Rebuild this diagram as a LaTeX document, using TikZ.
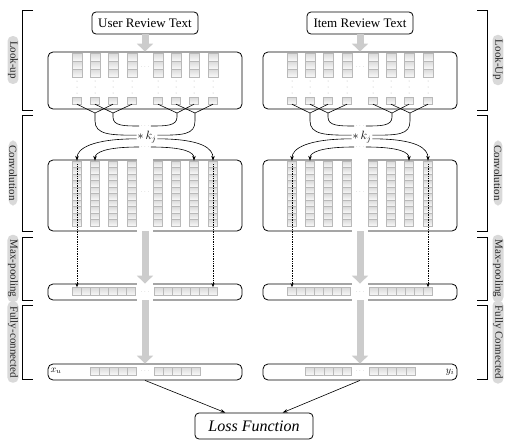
\documentclass[tikz,border=0pt]{standalone}
\usepackage{fontspec}
\setmainfont{Liberation Serif}
\usetikzlibrary{shapes,
                arrows.meta,
                calc,
                positioning}
\tikzstyle{panel} = [draw=black, line width=0.8pt, rounded corners=5pt, minimum width=194pt, inner sep=0pt]
\tikzstyle{textbox} = [draw=black, line width=0.8pt, rounded corners=4pt, minimum width=106pt, minimum height=22pt, font=\fontsize{13}{15}\selectfont]
\tikzstyle{cell} = [draw=gray!55, line width=0.4pt, top color=gray!30, bottom color=gray!5, inner sep=0pt]
\tikzstyle{sidelabel} = [fill=gray!30, rounded corners=5pt, rotate=-90, inner xsep=5pt, inner ysep=0.5pt, text=black!85, font=\fontsize{11}{12}\selectfont]
\tikzstyle{bracket} = [line width=0.9pt]
\tikzstyle{bigarrow} = [line width=7pt, draw=gray!40, -{Triangle[width=16pt,length=8pt]}]
\tikzstyle{arrow} = [line width=0.6pt, -{Stealth[length=5pt,width=3.5pt]}]
\tikzstyle{dotarrow} = [densely dotted, line width=0.7pt, -{Stealth[length=4pt,width=3pt]}]
\tikzstyle{wire} = [line width=0.6pt]
\tikzstyle{dots} = [gray, font=\tiny, inner sep=1pt]

\begin{document}
\begin{tikzpicture}[x=1pt,y=-1pt]
\useasboundingbox (0,0) rectangle (517,447);

% layer brackets
\foreach \ya/\yb/\nm/\labl/\labr in {10/110/lu/Look-up/Look-Up,
    115/231/cv/Convolution/Convolution,
    237/300/mp/Max-pooling/Max-pooling,
    305/379/fc/Fully-connected/Fully Connected}{
  \draw[bracket] (33,\ya) -- (22,\ya) -- (22,\yb) -- (33,\yb);
  \draw[bracket] (477,\ya) -- (487,\ya) -- (487,\yb) -- (477,\yb);
  \node[sidelabel] (name-\nm-l) at (13,{(\ya+\yb)/2}) {\labl};
  \node[sidelabel] (name-\nm-r) at (498,{(\ya+\yb)/2}) {\labr};
}

\foreach \ox/\p/\txt in {0/u/User Review Text, 215/i/Item Review Text}{
  % look-up
  \node[textbox] (text-\p) at (145+\ox,23) {\txt};
  \node[panel, minimum height=57pt] (lu-\p) at (145+\ox,80.5) {};
  \draw[bigarrow] (text-\p.south) -- (lu-\p.north);
  \foreach \c/\cx in {1/77,2/95,3/113,4/132,5/158,6/176,7/194,8/213}{
    \foreach \r/\ry in {1/57,2/65,3/73}
      \node[cell, minimum width=10pt, minimum height=8pt] (lt-\p-\c-\r) at (\cx+\ox,\ry) {};
    \node[cell, minimum width=9pt, minimum height=7pt] (lb-\p-\c) at (\cx+\ox,100.5) {};
    \foreach \dy in {81,87,93}
      \fill[gray!60] (\cx+\ox,\dy) circle (0.5);
  }
  \node[dots] (lu-dots-\p) at (145+\ox,67) {$\cdots$};

  % kernel
  \node[inner sep=1pt, font=\fontsize{12}{14}\selectfont] (k-\p) at (147+\ox,137) {$\ast\,k_j$};
  \node[dots] (kd1-\p) at (145+\ox,126) {$\cdots$};
  \node[dots] (kd2-\p) at (145+\ox,147) {$\cdots$};
  \coordinate (ja-\p) at (95+\ox,113);
  \coordinate (jb-\p) at (113+\ox,113);
  \coordinate (jc-\p) at (177+\ox,113);
  \coordinate (jd-\p) at (195+\ox,113);
  \draw[wire] (lb-\p-1.south) -- (ja-\p) -- (lb-\p-3.south);
  \draw[wire] (lb-\p-2.south) -- (jb-\p) -- (lb-\p-4.south);
  \draw[wire] (lb-\p-5.south) -- (jc-\p) -- (lb-\p-7.south);
  \draw[wire] (lb-\p-6.south) -- (jd-\p) -- (lb-\p-8.south);
  \draw[wire] (jb-\p) -- ++(0,4) .. controls +(0,9) and +(-15,0) .. (kd1-\p.west);
  \draw[wire] (ja-\p) -- ++(0,8) .. controls +(0,14) and +(-25,0) .. (k-\p.170);
  \draw[wire] (jc-\p) -- ++(0,4) .. controls +(0,9) and +(15,0) .. (kd1-\p.east);
  \draw[wire] (jd-\p) -- ++(0,8) .. controls +(0,14) and +(25,0) .. (k-\p.10);

  % convolution
  \node[panel, minimum height=71pt] (cv-\p) at (145+\ox,195.5) {};
  \foreach \c/\cx in {1/77,2/95,3/113,4/132,5/158,6/176,7/194,8/213}{
    \foreach \r in {1,...,10}
      \node[cell, minimum width=9pt, minimum height=6.5pt] (cc-\p-\c-\r) at (\cx+\ox,{164.25+6.5*(\r-1)}) {};
  }
  \node[dots] (cv-dots-\p) at (145+\ox,192) {$\cdots$};
  \draw[arrow] (k-\p.190) .. controls +(-45,0) and +(0,-12) .. (cc-\p-1-1.north);
  \draw[arrow] (kd2-\p.west) .. controls +(-35,0) and +(0,-8) .. (cc-\p-2-1.north);
  \draw[arrow] (k-\p.350) .. controls +(45,0) and +(0,-12) .. (cc-\p-8-1.north);
  \draw[arrow] (kd2-\p.east) .. controls +(35,0) and +(0,-8) .. (cc-\p-7-1.north);

  % max-pooling
  \node[panel, minimum height=16pt] (mp-\p) at (145+\ox,292) {};
  \foreach \m in {1,...,7}{
    \node[cell, minimum width=9pt, minimum height=8pt] (ml-\p-\m) at ({77+9*(\m-1)+\ox},291.5) {};
    \node[cell, minimum width=9pt, minimum height=8pt] (mr-\p-\m) at ({159+9*(\m-1)+\ox},291.5) {};
  }
  \node[dots] (mp-dots-\p) at (145+\ox,292) {$\cdots$};
  \draw[dotarrow] (cc-\p-1-1.center) -- (ml-\p-1.north);
  \draw[dotarrow] (cc-\p-8-1.center) -- (mr-\p-7.north);

  % fully connected
  \node[panel, minimum height=16pt] (fc-\p) at (145+\ox,372) {};
  \foreach \m in {1,...,5}{
    \node[cell, minimum width=9.2pt, minimum height=8pt] (fl-\p-\m) at ({95+9.2*(\m-1)+\ox},371) {};
    \node[cell, minimum width=9.2pt, minimum height=8pt] (fr-\p-\m) at ({158.6+9.2*(\m-1)+\ox},371) {};
  }
  \node[dots] (fc-dots-\p) at (145+\ox,371) {$\cdots$};

  % openings for the grey arrows
  \fill[white] (137+\ox,158) rectangle (153+\ox,162);
  \fill[white] (137+\ox,229) rectangle (153+\ox,233);
  \fill[white] (137+\ox,282) rectangle (153+\ox,286);
  \fill[white] (137+\ox,298) rectangle (153+\ox,302);
  \draw[bigarrow] (cv-\p.south) -- (mp-\p.north);
  \draw[bigarrow] (mp-\p.south) -- (fc-\p.north);
}

\node[font=\fontsize{10}{12}\selectfont] (xu) at (56,371) {$x_u$};
\node[font=\fontsize{10}{12}\selectfont] (yi) at (450,372) {$y_i$};

% loss
\node[textbox, minimum width=118pt, minimum height=26pt, font=\fontsize{16}{18}\selectfont\itshape] (loss) at (254,426) {Loss Function};
\draw[arrow] (fc-u.south) -- (loss.155);
\draw[arrow] (fc-i.south) -- (loss.25);
\end{tikzpicture}
\end{document}
